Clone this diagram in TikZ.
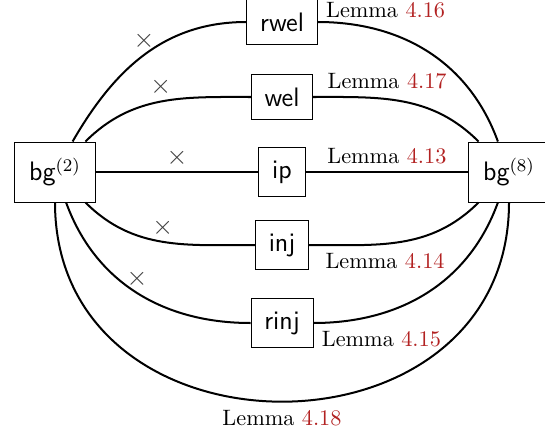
\documentclass[tikz,border=0pt]{standalone}
\usepackage{amsmath}
\usetikzlibrary{positioning}
\definecolor{lemred}{rgb}{0.70,0.13,0.13}
\newcommand{\lem}[1]{Lemma \textcolor{lemred}{#1}}
\tikzset{
  prop/.style  = {shape=rectangle, draw, inner sep=6pt,
                  font=\large\sffamily},
  endpt/.style = {prop, inner xsep=6.5pt, minimum height=27pt},
  wire/.style  = {line width=0.9pt},
  lemma/.style = {font=\normalsize, inner sep=3.33pt},
  nope/.style  = {text=black!75, font=\large, inner sep=2pt}
}

\begin{document}
\begin{tikzpicture}[x=0.4492pt, y=0.4492pt]
  \useasboundingbox (0,0) rectangle (545,429);
  % the two end points
  \node [endpt] (bg2) at (55,257) {bg$^{(2)}$};
  \node [endpt] (bg8) at (509,257) {bg$^{(8)}$};
  % properties in between
  \node [prop] (rwel) at (282,407) {rwel};
  \node [prop] (wel)  at (282,332) {wel};
  \node [prop] (ip)   at (282,257) {ip};
  \node [prop] (inj)  at (282,184) {inj};
  \node [prop] (rinj) at (282,106) {rinj};

  \draw [wire] (bg2) to[out=60,in=180] node[nope,above] {$\times$} (rwel);
  \draw [wire] (rwel) to[out=0,in=110]
    node[lemma,pos=0,above right,yshift=-2pt] {\lem{4.16}} (bg8);
  \draw [wire] (bg2) to[out=45,in=180] node[nope,above] {$\times$} (wel);
  \draw [wire] (wel) to[out=0,in=135]
    node[lemma,pos=0.03,above right] {\lem{4.17}} (bg8);
  \draw [wire] (bg2) -- node[nope,above] {$\times$} (ip);
  \draw [wire] (ip) -- node[lemma,above] {\lem{4.13}} (bg8);
  \draw [wire] (bg2) to[out=-45,in=180] node[nope,above] {$\times$} (inj);
  \draw [wire] (inj) to[out=0,in=-135]
    node[lemma,pos=0.04,below right] {\lem{4.14}} (bg8);
  \draw [wire] (bg2) to[out=-70,in=180] node[nope,above] {$\times$} (rinj);
  \draw [wire] (rinj) to[out=0,in=-110]
    node[lemma,pos=0,below right] {\lem{4.15}} (bg8);
  % the long way round
  \draw [wire] (bg2) to[out=-90,in=-90,looseness=1.5]
    node[lemma,below] {\lem{4.18}} (bg8);
\end{tikzpicture}
\end{document}
